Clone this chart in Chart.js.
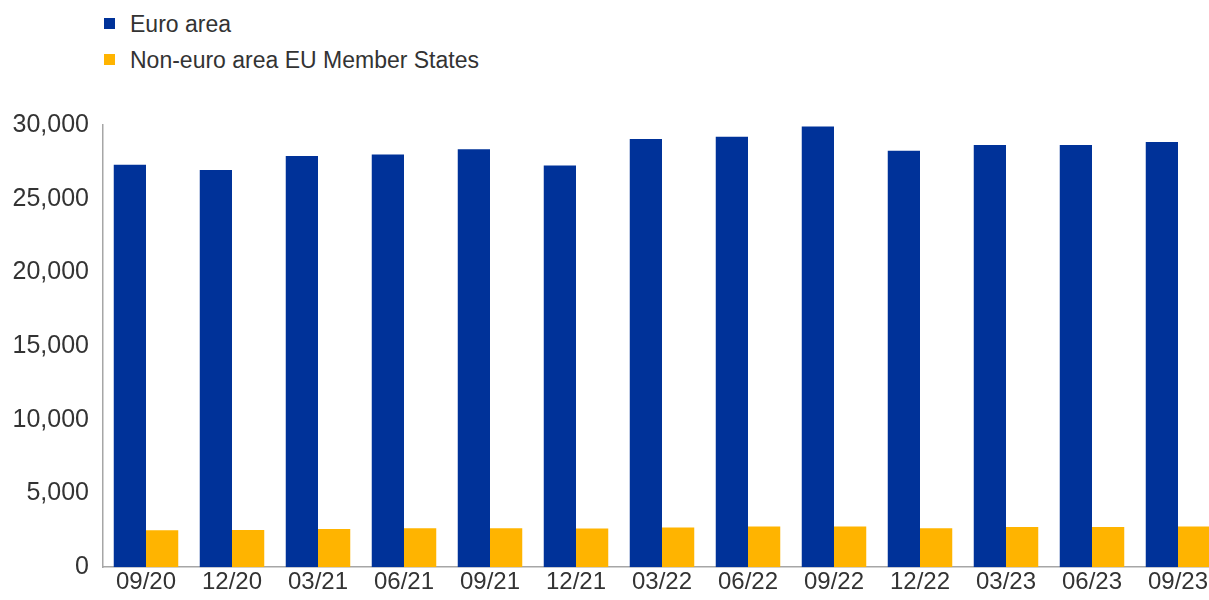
<!DOCTYPE html>
<html>
<head>
<meta charset="utf-8">
<script src="https://cdn.jsdelivr.net/npm/chart.js@4"></script>
<style>
  html, body { margin: 0; padding: 0; background: #fff; overflow: hidden; width: 1209px; height: 600px; }
  #wrap { position: relative; width: 1209px; height: 600px; overflow: hidden; }
  #myChart { position: absolute; left: 0; top: 0; }
  #legend { position: absolute; left: 104px; top: 8px; font-family: "Liberation Sans", Arial, sans-serif; font-size: 23px; color: #333; }
  #legend div { height: 36px; line-height: 32px; white-space: nowrap; }
  #legend span.box { display: inline-block; width: 11px; height: 11px; margin-right: 15px; vertical-align: 3px; }
</style>
</head>
<body>
<div id="wrap">
  <div id="legend"></div>
  <canvas id="myChart" width="1221" height="600"></canvas>
</div>
<script>
var labels = ['09/20', '12/20', '03/21', '06/21', '09/21', '12/21', '03/22', '06/22', '09/22', '12/22', '03/23', '06/23', '09/23'];
var euroArea = [27300, 26950, 27900, 28000, 28350, 27250, 29050, 29200, 29900, 28250, 28650, 28650, 28850];
var nonEuro = [2500, 2520, 2600, 2650, 2650, 2620, 2700, 2760, 2760, 2650, 2720, 2720, 2760];
var seriesNames = ['Euro area', 'Non-euro area EU Member States'];

var ctx = document.getElementById('myChart').getContext('2d');
var fam = '"Liberation Sans", Arial, sans-serif';

var myChart = new Chart(ctx, {
  type: 'bar',
  data: {
    labels: labels,
    datasets: [{
      label: seriesNames[0],
      data: euroArea,
      backgroundColor: '#003299'
    }, {
      label: seriesNames[1],
      data: nonEuro,
      backgroundColor: '#ffb400'
    }]
  },
  options: {
    responsive: false,
    animation: false,
    categoryPercentage: 0.75,
    barPercentage: 1,
    layout: { padding: { top: 125, left: 0, right: 0, bottom: 2 } },
    plugins: {
      legend: { display: false },
      tooltip: { enabled: false }
    },
    scales: {
      x: {
        grid: { display: false, drawTicks: false },
        border: { color: '#a6a6a6', width: 1.5 },
        ticks: { color: '#333', font: { family: fam, size: 24 }, padding: 1, maxRotation: 0, autoSkip: false }
      },
      y: {
        min: 0,
        max: 30000,
        afterFit: function (s) { s.width = 103; },
        grid: { display: false, drawTicks: false },
        border: { color: '#a6a6a6', width: 1.5 },
        ticks: {
          stepSize: 5000,
          color: '#333',
          font: { family: fam, size: 25 },
          padding: 14,
          callback: function (v) { return v.toLocaleString('en-US'); }
        }
      }
    }
  }
});

// legend built from the chart's own legend items
var items = myChart.options.plugins.legend.labels.generateLabels(myChart);
var leg = document.getElementById('legend');
items.forEach(function (it) {
  var row = document.createElement('div');
  var box = document.createElement('span');
  box.className = 'box';
  box.style.background = it.fillStyle;
  row.appendChild(box);
  row.appendChild(document.createTextNode(it.text));
  leg.appendChild(row);
});
</script>
</body>
</html>
